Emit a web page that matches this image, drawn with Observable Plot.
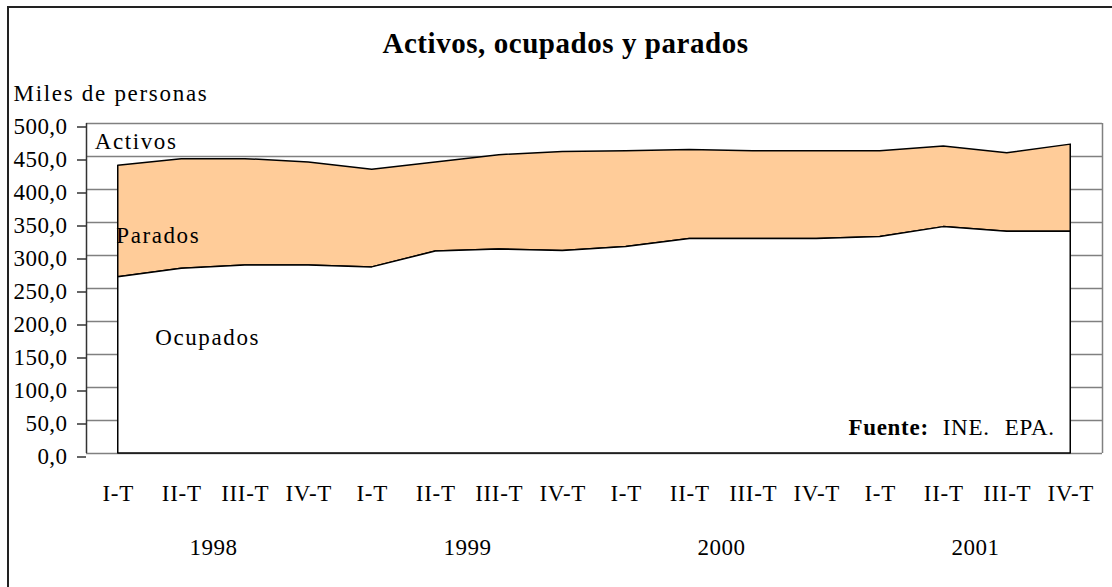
<!DOCTYPE html>
<html>
<head>
<meta charset="utf-8">
<script src="https://cdn.jsdelivr.net/npm/d3@7"></script>
<script src="https://cdn.jsdelivr.net/npm/@observablehq/plot@0.6"></script>
<style>
  html, body { margin: 0; padding: 0; background: white; overflow: hidden; }
  #wrap { position: relative; width: 1112px; height: 587px; overflow: hidden; background: white; }
  #border { position: absolute; left: 7px; top: 6px; width: 1300px; height: 800px; border: 2px solid #222; box-sizing: border-box; }
  #chart { position: absolute; left: 0; top: 0; }
  svg, svg text { font-family: "Liberation Serif", "Times New Roman", serif !important; }
</style>
</head>
<body>
<div id="wrap"><div id="border"></div><div id="chart"></div></div>
<script>
const quarters = ["I-T","II-T","III-T","IV-T","I-T","II-T","III-T","IV-T",
                  "I-T","II-T","III-T","IV-T","I-T","II-T","III-T","IV-T"];
const years = ["1998","1999","2000","2001"];
const activos  = [436, 446, 446, 441, 430, 441, 452, 457, 458, 460, 458, 458, 458, 465, 455, 468];
const ocupados = [267, 280, 285, 285, 282, 306, 309, 307, 313, 325, 325, 325, 328, 343, 336, 336];
const yTicks = [0, 50, 100, 150, 200, 250, 300, 350, 400, 450, 500];

const title = "Activos, ocupados y parados";
const yLabel = "Miles de personas";
const fuenteLabels = ["Fuente:", "INE.", "EPA."];

const data = quarters.map((q, i) => ({i, q, activos: activos[i], ocupados: ocupados[i]}));
const yearData = years.map((y, k) => ({x: k * 4 + 1.5, y}));
const fmt = d => d.toFixed(1).replace(".", ",");
const last = quarters.length - 1;

const chart = Plot.plot({
  width: 1112,
  height: 587,
  marginLeft: 86,
  marginRight: 10,
  marginTop: 123,
  marginBottom: 134,
  x: {domain: [-0.5, quarters.length - 0.5], axis: null},
  y: {domain: [0, 500]},
  style: {fontFamily: "Liberation Serif, serif", fontSize: "23px", color: "black", background: "transparent", overflow: "visible"},
  marks: [
    Plot.gridY({ticks: yTicks, stroke: "#808080", strokeOpacity: 1, strokeWidth: 1.5}),
    Plot.ruleX([quarters.length - 0.5], {stroke: "#808080", strokeWidth: 1.5}),
    Plot.areaY(data, {x: "i", y1: "ocupados", y2: "activos", fill: "#FFCC99", stroke: "black", strokeWidth: 1.5}),
    Plot.areaY(data, {x: "i", y: "ocupados", fill: "white", stroke: "black", strokeWidth: 1.5}),
    Plot.ruleX([-0.5], {stroke: "#333", strokeWidth: 1.5}),
    Plot.axisY({ticks: yTicks, tickSize: 9, tickPadding: 10, stroke: "#333", strokeWidth: 1.5,
      tickFormat: fmt, label: null, dy: 3.5, fill: "black"}),
    Plot.text(data, {x: "i", text: "q", frameAnchor: "bottom", lineAnchor: "middle", dy: 40.6}),
    Plot.text(yearData, {x: "x", text: "y", frameAnchor: "bottom", lineAnchor: "middle", dy: 94.6}),
    Plot.text([title], {frameAnchor: "top", lineAnchor: "middle", dx: -29, dy: -79.3,
      fontWeight: "bold", fontSize: 29}),
    Plot.text([yLabel], {frameAnchor: "top-left", textAnchor: "start", lineAnchor: "middle",
      dx: -73, dy: -29.7}),
    Plot.text(["Activos"], {x: 0, y: 473, dx: -23.5, textAnchor: "start", lineAnchor: "middle"}),
    Plot.text(["Parados"], {x: 0, y: 330, dx: -2, textAnchor: "start", lineAnchor: "middle"}),
    Plot.text(["Ocupados"], {x: 0, y: 175, dx: 37, textAnchor: "start", lineAnchor: "middle"}),
    Plot.text([fuenteLabels[0]], {x: last, y: 38.5, dx: -142, textAnchor: "end", lineAnchor: "middle", fontWeight: "bold"}),
    Plot.text([fuenteLabels[1]], {x: last, y: 38.5, dx: -128, textAnchor: "start", lineAnchor: "middle"}),
    Plot.text([fuenteLabels[2]], {x: last, y: 38.5, dx: -16, textAnchor: "end", lineAnchor: "middle"})
  ]
});

// letter spacing to mimic the wider original glyph rendering
const tickSet = new Set(yTicks.map(fmt));
const qSet = new Set(quarters);
const ySet = new Set(years);
const fSet = new Set(fuenteLabels);
d3.select(chart).selectAll("text").each(function() {
  const t = this.textContent;
  let ls = 1.6;
  if (tickSet.has(t)) ls = 0.45;
  else if (qSet.has(t)) ls = 0.7;
  else if (ySet.has(t)) ls = 0.5;
  else if (t === title) ls = 0.55;
  else if (t === yLabel) ls = 1.7;
  else if (fSet.has(t)) ls = 0.7;
  this.style.letterSpacing = ls + "px";
});
document.getElementById("chart").appendChild(chart);
</script>
</body>
</html>
